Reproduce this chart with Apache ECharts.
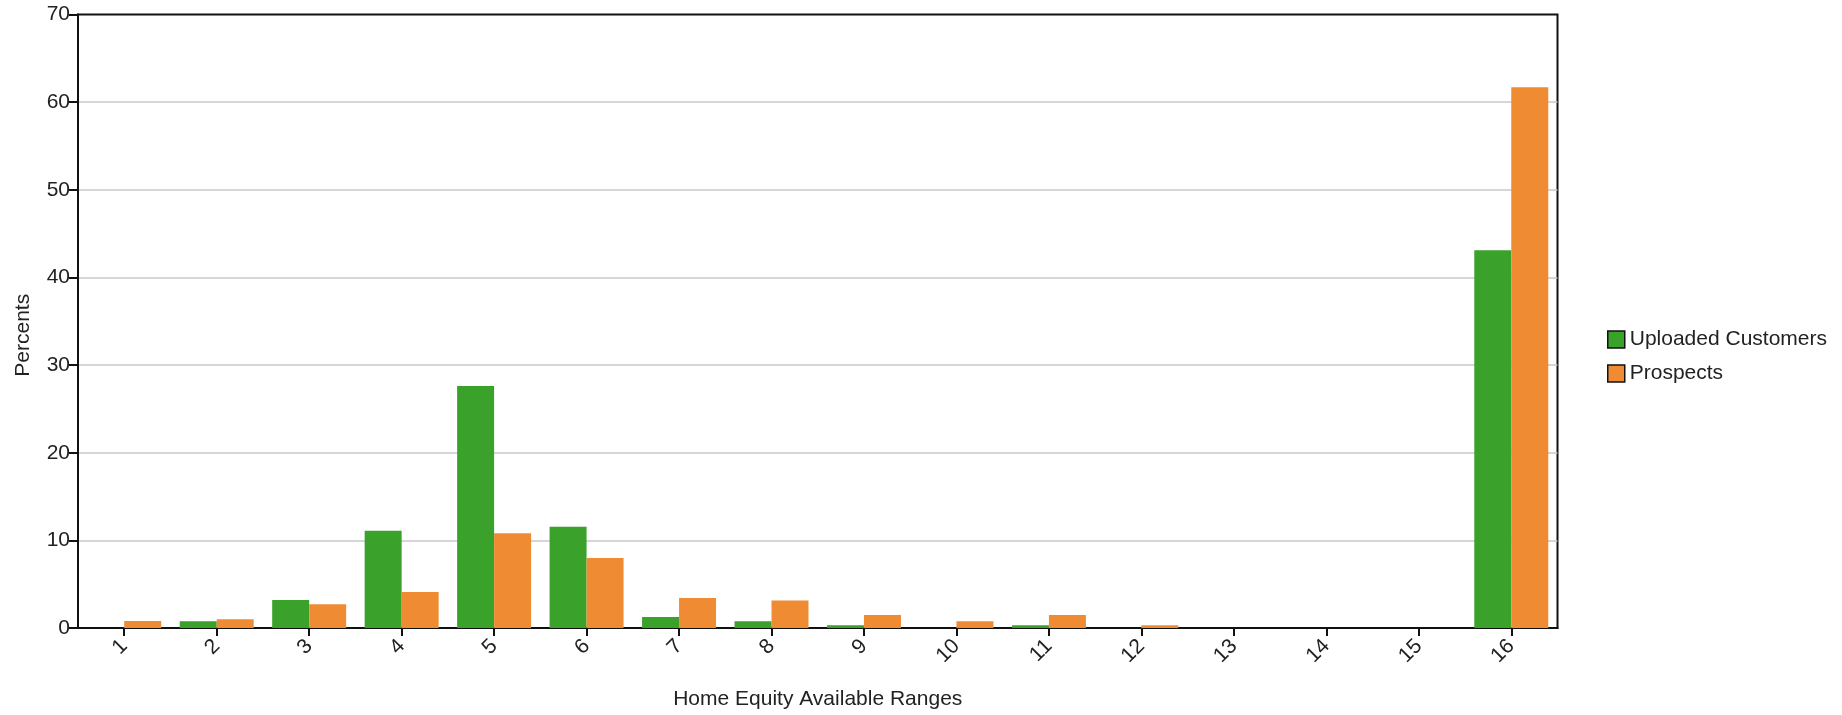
<!DOCTYPE html>
<html>
<head>
<meta charset="utf-8">
<script src="https://cdn.jsdelivr.net/npm/echarts@6/dist/echarts.min.js"></script>
<style>
html,body{margin:0;padding:0;background:#fff;}
#chart{width:1842px;height:715px;}
</style>
</head>
<body>
<div id="chart"></div>
<script>
const categories = ['1','2','3','4','5','6','7','8','9','10','11','12','13','14','15','16'];
const uploadedCustomers = [0, 0.78, 3.19, 11.09, 27.6, 11.56, 1.25, 0.78, 0.31, 0, 0.31, 0, 0, 0, 0, 43.1];
const prospects = [0.8, 1.0, 2.72, 4.12, 10.82, 7.98, 3.42, 3.15, 1.48, 0.78, 1.48, 0.31, 0, 0, 0, 61.7];
const seriesNames = ['Uploaded Customers', 'Prospects'];
const xAxisTitle = 'Home Equity Available Ranges';
const yAxisTitle = 'Percents';

const FONT = '"Liberation Sans", Arial, sans-serif';
const chart = echarts.init(document.getElementById('chart'), null, {renderer: 'canvas'});
chart.setOption({
  animation: false,
  backgroundColor: '#ffffff',
  textStyle: {fontFamily: FONT},
  grid: {
    left: 78, right: 284.5, top: 14.5, bottom: 84.5,
    show: true, borderColor: '#111', borderWidth: 2, backgroundColor: 'transparent',
    containLabel: false
  },
  legend: {
    orient: 'vertical',
    left: 1602, top: 324,
    itemWidth: 17, itemHeight: 17, itemGap: 13,
    icon: 'rect',
    textStyle: {fontFamily: FONT, fontSize: 21, color: '#222', lineHeight: 21},
    itemStyle: {borderColor: '#111', borderWidth: 1.5},
    data: seriesNames
  },
  xAxis: {
    type: 'category',
    data: categories,
    boundaryGap: true,
    name: xAxisTitle,
    nameLocation: 'middle',
    nameGap: 61,
    nameTextStyle: {fontFamily: FONT, fontSize: 21, color: '#222'},
    axisLine: {show: true, lineStyle: {color: '#111', width: 2}},
    axisTick: {show: true, alignWithLabel: true, length: 8, lineStyle: {color: '#111', width: 2}},
    axisLabel: {rotate: 45, margin: 15, fontFamily: FONT, fontSize: 21, color: '#222'},
    splitLine: {show: false}
  },
  yAxis: {
    type: 'value',
    min: 0, max: 70, interval: 10,
    name: yAxisTitle,
    nameLocation: 'middle',
    nameGap: 44,
    nameTextStyle: {fontFamily: FONT, fontSize: 21, color: '#222', padding: [0, 28, 0, 0]},
    axisLine: {show: true, lineStyle: {color: '#111', width: 2}},
    axisTick: {show: true, length: 9, lineStyle: {color: '#111', width: 2}},
    axisLabel: {margin: 8, fontFamily: FONT, fontSize: 21, color: '#222'},
    splitLine: {show: true, showMaxLine: false, showMinLine: false, lineStyle: {color: '#c8c8c8', width: 1.5}}
  },
  series: [
    {
      name: seriesNames[0], type: 'bar', data: uploadedCustomers,
      barGap: '0%', barCategoryGap: '20%',
      itemStyle: {color: '#3aa12b', borderWidth: 0}
    },
    {
      name: seriesNames[1], type: 'bar', data: prospects,
      barGap: '0%', barCategoryGap: '20%',
      itemStyle: {color: '#ee8b33', borderWidth: 0}
    }
  ]
});
</script>
</body>
</html>
